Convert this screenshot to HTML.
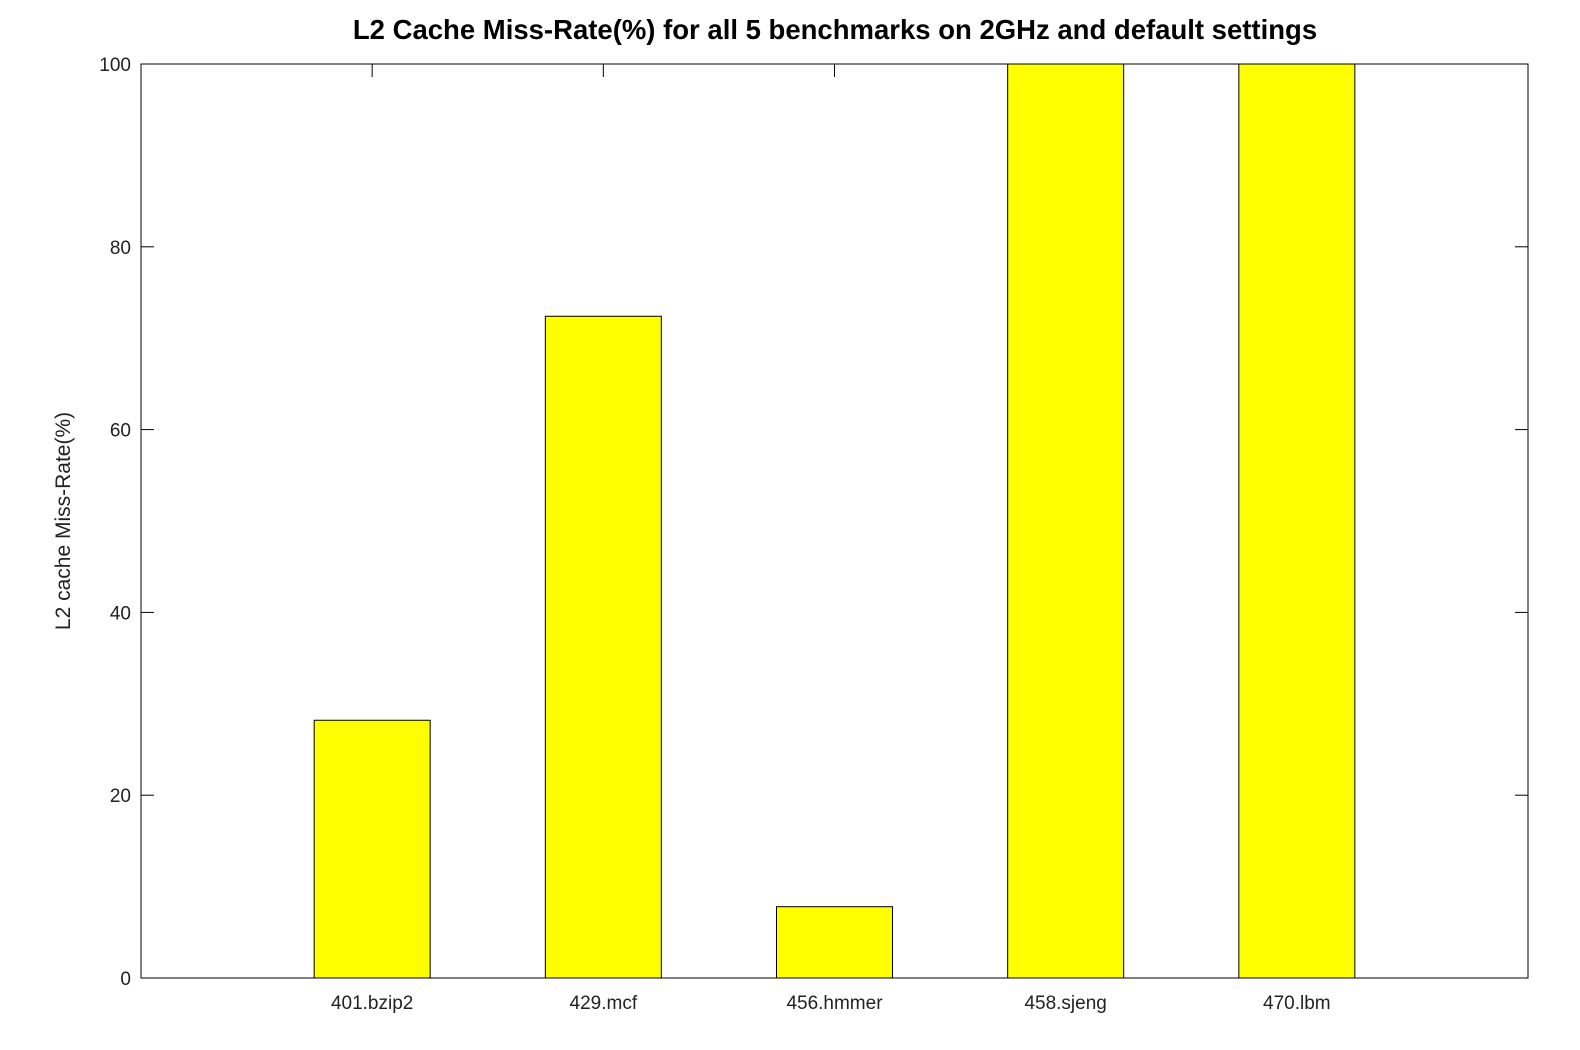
<!DOCTYPE html>
<html><head><meta charset="utf-8"><style>
html,body{margin:0;padding:0;background:#fff;}
svg{display:block;font-family:"Liberation Sans",sans-serif;}
</style></head><body>
<svg id="chart" width="1580" height="1050" viewBox="0 0 1580 1050" xmlns="http://www.w3.org/2000/svg">
<rect x="0" y="0" width="1580" height="1050" fill="#fff"/>
<text x="835" y="39" text-anchor="middle" font-size="27.5" font-weight="bold" fill="#000">L2 Cache Miss-Rate(%) for all 5 benchmarks on 2GHz and default settings</text>
<text transform="translate(70,521) rotate(-90)" text-anchor="middle" font-size="21" fill="#222">L2 cache Miss-Rate(%)</text>
<g id="axes"></g>
<g id="bars"></g>
<g id="frame"></g>
</svg>
<script>
const categories = ["401.bzip2","429.mcf","456.hmmer","458.sjeng","470.lbm"];
const missRate = [28.2, 72.4, 7.8, 100, 100];
const yTicks = [0,20,40,60,80,100];

const L=141,R=1528,T=64,B=978;
const xScale = i => L + (R-L)*(i+1)/(categories.length+1);
const yScale = v => B - (B-T)*v/100;
const barW = 116;
const NS="http://www.w3.org/2000/svg";
const bars=document.getElementById('bars'), axes=document.getElementById('axes'), frameG=document.getElementById('frame');
function mk(tag,attrs,parent){const e=document.createElementNS(NS,tag);for(const k in attrs)e.setAttribute(k,attrs[k]);parent.appendChild(e);return e;}

yTicks.forEach(t=>{
  const y=yScale(t);
  mk('line',{x1:L,y1:y,x2:L+13,y2:y,stroke:'#000'},axes);
  mk('line',{x1:R,y1:y,x2:R-13,y2:y,stroke:'#000'},axes);
  const tx=mk('text',{x:L-10,y:y+7,'text-anchor':'end','font-size':19,fill:'#222'},axes);
  tx.textContent=t;
  
  
});

categories.forEach((c,i)=>{
  const x=xScale(i);
  mk('line',{x1:x,y1:B,x2:x,y2:B-13,stroke:'#000'},axes);
  mk('line',{x1:x,y1:T,x2:x,y2:T+13,stroke:'#000'},axes);
  const tx=mk('text',{x:x,y:B+31,'text-anchor':'middle','font-size':19,fill:'#222'},axes);
  tx.textContent=c;
  
  
});

missRate.forEach((v,i)=>{
  const y=yScale(Math.min(v,100));
  const r=mk('rect',{x:xScale(i)-barW/2,y:y,width:barW,height:B-y,fill:'#ffff00',stroke:'#000','stroke-width':1},bars);
  
  
});

const frame=mk('rect',{x:L,y:T,width:R-L,height:B-T,fill:'none',stroke:'#000','stroke-width':1},frameG);


</script>
</body></html>
